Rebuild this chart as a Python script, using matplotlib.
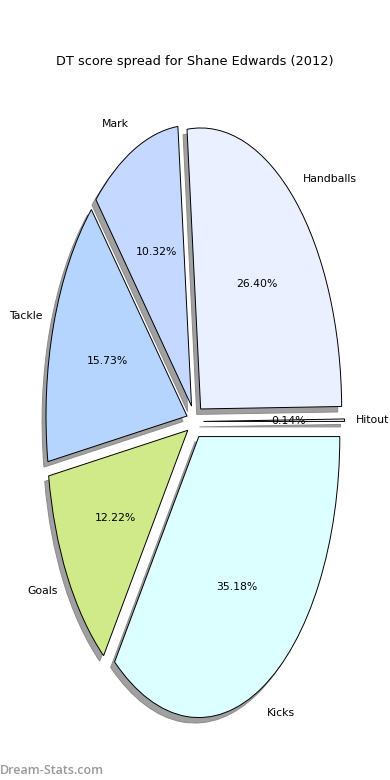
import matplotlib
matplotlib.use("Agg")
import matplotlib.pyplot as plt
import numpy as np

labels = ["Hitout", "Handballs", "Mark", "Tackle", "Goals", "Kicks"]
values = [0.14, 26.40, 10.32, 15.73, 12.22, 35.18]
colors = ["#f4f7ff", "#eaf0ff", "#c5d8ff", "#b5d5ff", "#d0ea8a", "#dcffff"]
explode = [0.06] * len(values)

fig = plt.figure(figsize=(3.9, 7.8), dpi=100)
ax = fig.add_axes([0, 0, 1, 1])
wedges, texts, autotexts = ax.pie(
    values, labels=labels, colors=colors, explode=explode,
    autopct="%1.2f%%",
    shadow=dict(ox=-0.02, oy=-0.014, facecolor="#a0a0a0", edgecolor="#8c8c8c", alpha=1.0),
    startangle=0, labeldistance=1.1,
    wedgeprops=dict(edgecolor="black", linewidth=0.7),
    textprops=dict(fontsize=7.8),
)
# slightly tighter horizontal label distance than vertical
for w, t in zip(wedges, texts):
    th = np.deg2rad((w.theta1 + w.theta2) / 2)
    c = w.center
    t.set_position((c[0] + 1.08 * np.cos(th), c[1] + 1.1 * np.sin(th)))

ax.set_aspect("auto")
sx, sy = 141.0, 281.0
cx, cy = 195.0, 421.5
ax.set_xlim(-cx / sx, (390 - cx) / sx)
ax.set_ylim(-(780 - cy) / sy, cy / sy)
ax.axis("off")

fig.text(0.5, 1 - 61 / 780, "DT score spread for Shane Edwards (2012)",
         ha="center", va="center", fontsize=9.3)
fig.text(0.0, 1 - 770 / 780, "Dream-Stats.com", ha="left", va="center",
         fontsize=9, color="#999999", family="Open Sans", fontweight="semibold")

fig.savefig("out.png", dpi=100)
